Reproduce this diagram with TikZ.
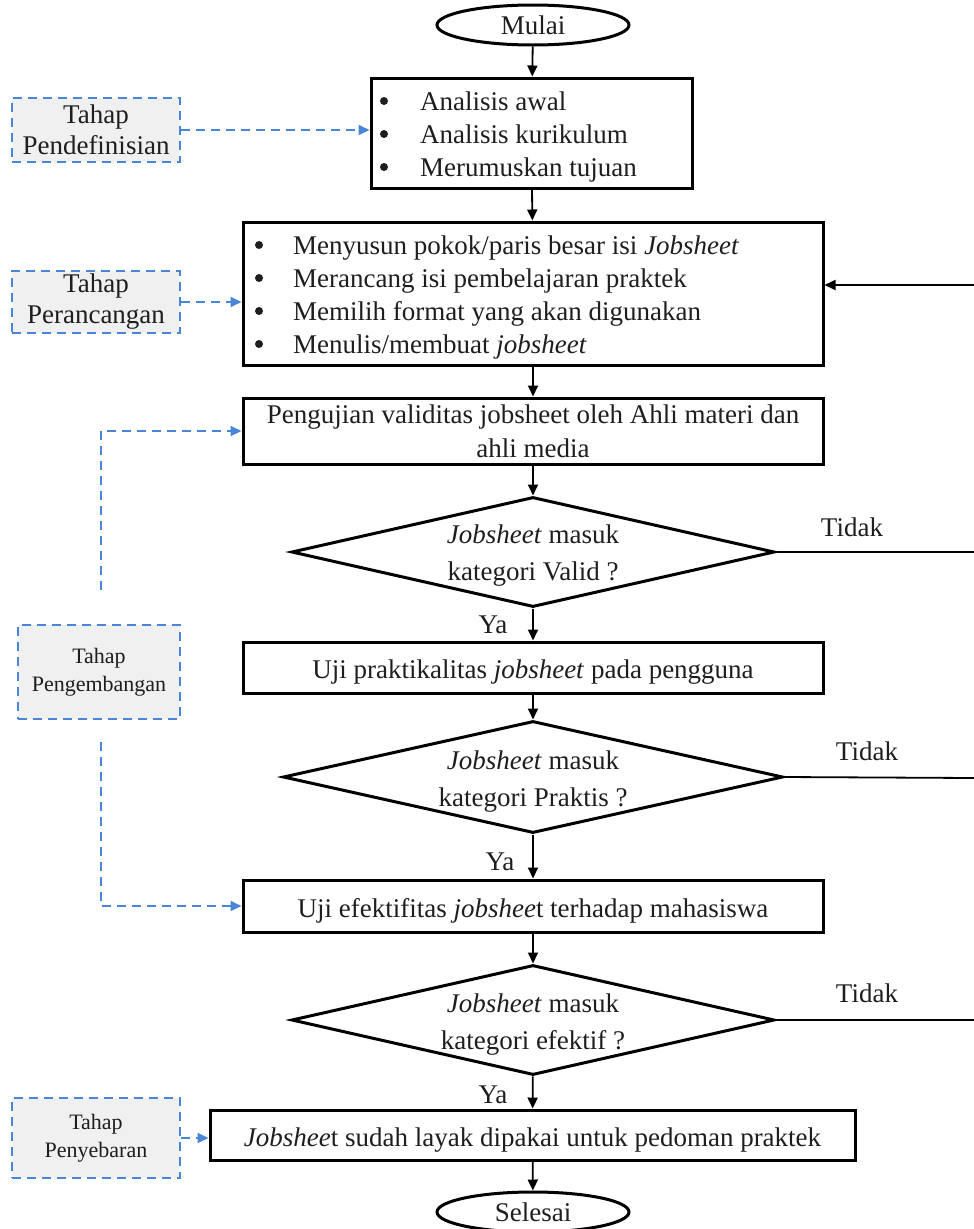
\documentclass[tikz,border=0pt]{standalone}
\usepackage{fontspec}
\setmainfont{Liberation Serif}
\usetikzlibrary{shapes.geometric,arrows.meta}
\definecolor{dblue}{HTML}{4A86D8}
\definecolor{lgray}{HTML}{F0F0F0}
\definecolor{txt}{HTML}{1E1E1E}
\tikzset{
  every node/.style={text=txt},
  big/.style={font=\fontsize{27}{34}\selectfont},
  phbig/.style={font=\fontsize{27}{31}\selectfont},
  small/.style={font=\fontsize{22}{28}\selectfont},
  item/.style={big,anchor=base west,inner sep=0pt},
  bulletdot/.style={fill=txt},
  procbox/.style={draw=black,line width=3pt,rectangle,inner sep=0pt,big,align=center},
  oneline/.style={text height=22pt,text depth=0pt},
  term/.style={draw=black,line width=3pt,ellipse,inner sep=0pt,minimum width=192pt,minimum height=40pt,big},
  decision/.style={draw=black,line width=3pt,diamond,inner sep=0pt},
  dtext/.style={align=center,inner sep=0pt,font=\fontsize{27}{37}\selectfont},
  phase/.style={draw=dblue,fill=lgray,line width=1.8pt,dash pattern=on 9pt off 6pt,rectangle,inner sep=0pt,align=center},
  flow/.style={draw=black,line width=1.8pt,-{Triangle[length=11pt,width=10pt]}},
  pflow/.style={draw=dblue,line width=1.8pt,dash pattern=on 9pt off 6pt,-{Triangle[length=11pt,width=10pt]}},
  plain/.style={draw=black,line width=1.8pt},
}
\begin{document}
\begin{tikzpicture}[x=1pt,y=-1pt]
\useasboundingbox (0,0) rectangle (974,1229);
\clip (0,0) rectangle (974,1229);
% terminals
\node[term] (mulai) at (533,25) {Mulai};
\node[term] (selesai) at (533,1212) {Selesai};
% box 1
\node[procbox,minimum width=321pt,minimum height=110pt] (b1) at (531.5,133) {};
\node[item] (t1a) at (420,110) {Analisis awal};
\node[item] (t1b) at (420,143) {Analisis kurikulum};
\node[item] (t1c) at (420,176) {Merumuskan tujuan};
\foreach \yy in {101,134,167} \fill[bulletdot] (384,\yy) circle (4pt);
% box 2
\node[procbox,minimum width=580pt,minimum height=143pt] (b2) at (533,293.5) {};
\node[item] (t2a) at (293,254) {Menyusun pokok/paris besar isi \textit{Jobsheet}};
\node[item] (t2b) at (293,287) {Merancang isi pembelajaran praktek};
\node[item] (t2c) at (293,320) {Memilih format yang akan digunakan};
\node[item] (t2d) at (293,353) {Menulis/membuat \textit{jobsheet}};
\foreach \yy in {245,278,311,344} \fill[bulletdot] (259,\yy) circle (4pt);
% box 3
\node[procbox,minimum width=580pt,minimum height=66pt] (b3) at (533,431) {Pengujian validitas jobsheet oleh Ahli materi dan\\ahli media};
% decision 1
\node[decision,minimum width=483pt,minimum height=110pt] (d1) at (533,552) {};
\node[dtext] (d1t) at ([yshift=-4pt]d1.center) {\textit{Jobsheet} masuk\\kategori Valid ?};
% box 4
\node[procbox,oneline,minimum width=580pt,minimum height=51pt] (b4) at (533,667.5) {Uji praktikalitas \textit{jobsheet} pada pengguna};
% decision 2
\node[decision,minimum width=500pt,minimum height=112pt] (d2) at (533,777) {};
\node[dtext] (d2t) at ([yshift=-5pt]d2.center) {\textit{Jobsheet} masuk\\kategori Praktis ?};
% box 5
\node[procbox,oneline,minimum width=580pt,minimum height=52pt] (b5) at (533,906) {Uji efektifitas \textit{jobshee}t terhadap mahasiswa};
% decision 3
\node[decision,minimum width=483pt,minimum height=110pt] (d3) at (533,1020) {};
\node[dtext] (d3t) at ([yshift=-5pt]d3.center) {\textit{Jobsheet} masuk\\kategori efektif ?};
% box 6
\node[procbox,oneline,minimum width=645pt,minimum height=50pt] (b6) at (532.5,1135) {\textit{Jobshee}t sudah layak dipakai untuk pedoman praktek};
% main flow
\draw[flow] (mulai) -- (b1);
\draw[flow] (b1) -- (b2);
\draw[flow] (b2) -- (b3);
\draw[flow] (b3) -- (d1);
\draw[flow] (d1) -- (b4);
\draw[flow] (b4) -- (d2);
\draw[flow] (d2) -- (b5);
\draw[flow] (b5) -- (d3);
\draw[flow] (d3) -- (b6);
\draw[flow] (b6) -- (selesai);
% labels
\node[big] (ya1) at (493,625) {Ya};
\node[big] (ya2) at (500,862) {Ya};
\node[big] (ya3) at (493,1095) {Ya};
\node[big] (td1) at (852,527) {Tidak};
\node[big] (td2) at (867,751) {Tidak};
\node[big] (td3) at (867,993) {Tidak};
% feedback (off the right edge)
\coordinate (r0) at (974,285);
\coordinate (r1) at (974,552);
\coordinate (r2) at (974,778);
\coordinate (r3) at (974,1020);
\draw[plain] (d1.east) -- (r1);
\draw[plain] (d2.east) -- (r2);
\draw[plain] (d3.east) -- (r3);
\draw[flow] (r0) -- (b2.east |- r0);
% phases
\node[phase,phbig,minimum width=168pt,minimum height=64pt] (p1) at (96,130) {Tahap\\Pendefinisian};
\node[phase,phbig,minimum width=168pt,minimum height=62pt] (p2) at (96,302) {Tahap\\Perancangan};
\node[phase,small,minimum width=162pt,minimum height=94pt] (p3) at (99,672) {Tahap\\Pengembangan};
\node[phase,small,minimum width=168pt,minimum height=80pt] (p4) at (96,1138) {Tahap\\Penyebaran};
\draw[pflow] (p1.east) -- (b1.west |- p1.east);
\draw[pflow] (p2.east) -- (b2.west |- p2.east);
\coordinate (pu) at (101,590);
\coordinate (pd) at (101,742);
\draw[pflow] (pu) |- (b3.west);
\draw[pflow] (pd) |- (b5.west);
\draw[pflow] (p4.east) -- (b6.west |- p4.east);
\end{tikzpicture}
\end{document}
